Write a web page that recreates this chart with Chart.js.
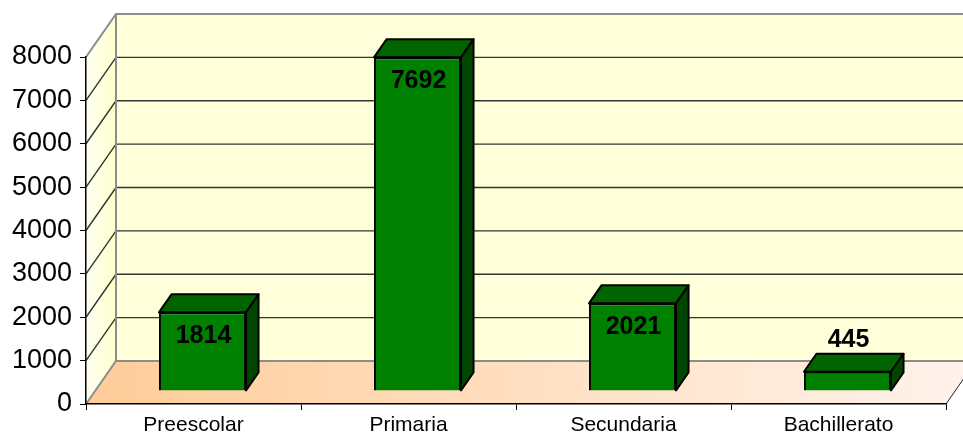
<!DOCTYPE html>
<html><head><meta charset="utf-8">
<script src="https://cdn.jsdelivr.net/npm/chart.js@4.4.0/dist/chart.umd.min.js"></script>
<style>html,body{margin:0;padding:0;background:#fff;overflow:hidden}</style>
</head><body>
<canvas id="c" width="963" height="436" style="display:block;width:963px;height:436px"></canvas>
<script>
// ---- data ----
const categories = ['Preescolar', 'Primaria', 'Secundaria', 'Bachillerato'];
const alumnos = [1814, 7692, 2021, 445];
const yMin = 0, yMax = 8000, yStep = 1000;

// ---- style constants (pixels) ----
const FONT = 'Arial, "Liberation Sans", sans-serif';
const WALL_DX = 30, WALL_DY = 43;     // depth of the 3D box
const BAR_OFF_X = 9, BAR_OFF_Y = 13;  // bar front-face offset into depth
const BAR_DX = 12.5, BAR_DY = 18;     // bar depth
const FRONT = '#008000', TOP = '#006400', SIDE = '#004600';

const walls = {
  id: 'walls',
  beforeDraw(chart) {
    const {ctx, chartArea: a, scales: {y}} = chart;
    const W = chart.width;
    ctx.save();
    // floor
    const yb = y.getPixelForValue(yMin);
    let g = ctx.createLinearGradient(a.left, 0, a.right + WALL_DX, 0);
    g.addColorStop(0, '#FFCC99');
    g.addColorStop(1, '#FFF3EC');
    ctx.fillStyle = g;
    ctx.beginPath();
    ctx.moveTo(a.left, yb); ctx.lineTo(a.right, yb);
    ctx.lineTo(a.right + WALL_DX, yb - WALL_DY); ctx.lineTo(a.left + WALL_DX, yb - WALL_DY);
    ctx.closePath(); ctx.fill();
    // back wall
    const yt = y.getPixelForValue(yMax);
    ctx.fillStyle = '#FFFFD9';
    ctx.fillRect(a.left + WALL_DX, yt - WALL_DY, W, yb - yt);
    // side wall
    g = ctx.createLinearGradient(a.left, 0, a.left + WALL_DX, 0);
    g.addColorStop(0, '#FFFFF2');
    g.addColorStop(1, '#FFFFCC');
    ctx.fillStyle = g;
    ctx.beginPath();
    ctx.moveTo(a.left, yb); ctx.lineTo(a.left, yt);
    ctx.lineTo(a.left + WALL_DX, yt - WALL_DY); ctx.lineTo(a.left + WALL_DX, yb - WALL_DY);
    ctx.closePath(); ctx.fill();
    // gridlines
    for (let v = yMin + yStep; v < yMax; v += yStep) {
      const p = y.getPixelForValue(v);
      ctx.strokeStyle = '#333'; ctx.lineWidth = 1.4;
      ctx.beginPath();
      ctx.moveTo(a.left, p); ctx.lineTo(a.left + WALL_DX, p - WALL_DY); ctx.lineTo(W + 5, p - WALL_DY);
      ctx.stroke();
    }
    // gray frame edges
    ctx.strokeStyle = '#8c8c8c'; ctx.lineWidth = 2;
    ctx.beginPath();
    ctx.moveTo(a.left, yt); ctx.lineTo(a.left + WALL_DX, yt - WALL_DY); ctx.lineTo(W + 5, yt - WALL_DY);
    ctx.moveTo(a.left, yb); ctx.lineTo(a.left + WALL_DX, yb - WALL_DY); ctx.lineTo(W + 5, yb - WALL_DY);
    ctx.moveTo(a.left + WALL_DX, yt - WALL_DY); ctx.lineTo(a.left + WALL_DX, yb - WALL_DY);
    ctx.stroke();
    // right floor edge
    ctx.strokeStyle = '#222'; ctx.lineWidth = 1;
    ctx.beginPath();
    ctx.moveTo(a.right, yb); ctx.lineTo(a.right + WALL_DX, yb - WALL_DY);
    ctx.stroke();
    ctx.restore();
  },
  beforeDatasetsDraw(chart) {
    chart.ctx.save();
    chart.ctx.translate(BAR_OFF_X, -BAR_OFF_Y);
  },
  afterDatasetsDraw(chart) {
    const ctx = chart.ctx;
    const meta = chart.getDatasetMeta(0);
    ctx.lineWidth = 2; ctx.strokeStyle = '#000'; ctx.lineJoin = 'round';
    meta.data.forEach(el => {
      const L = el.x - el.width / 2, R = el.x + el.width / 2, T = el.y, B = el.base;
      ctx.fillStyle = TOP;
      ctx.beginPath();
      ctx.moveTo(L, T); ctx.lineTo(R, T); ctx.lineTo(R + BAR_DX, T - BAR_DY); ctx.lineTo(L + BAR_DX, T - BAR_DY);
      ctx.closePath(); ctx.fill(); ctx.stroke();
      ctx.fillStyle = SIDE;
      ctx.beginPath();
      ctx.moveTo(R, T); ctx.lineTo(R + BAR_DX, T - BAR_DY); ctx.lineTo(R + BAR_DX, B - BAR_DY); ctx.lineTo(R, B);
      ctx.closePath(); ctx.fill(); ctx.stroke();
    });
    ctx.restore();
    // labels
    ctx.save();
    ctx.font = 'bold 25px ' + FONT;
    ctx.fillStyle = '#000'; ctx.textAlign = 'center'; ctx.textBaseline = 'middle';
    meta.data.forEach((el, i) => {
      const top = el.y - BAR_OFF_Y;
      const h = el.base - el.y;
      const ly = h > 50 ? top + 24 : top - BAR_DY - 14;
      ctx.fillText(String(alumnos[i]), el.x + BAR_OFF_X + 1, ly);
    });
    ctx.restore();
  }
};

new Chart(document.getElementById('c'), {
  type: 'bar',
  data: {
    labels: categories,
    datasets: [{
      data: alumnos,
      backgroundColor: FRONT,
      borderColor: '#000',
      borderWidth: 2,
      categoryPercentage: 1,
      barPercentage: 0.405,
      clip: false
    }]
  },
  options: {
    responsive: false,
    animation: false,
    devicePixelRatio: 1,
    layout: {padding: {top: 57, right: 17, left: 0, bottom: 0}},
    plugins: {legend: {display: false}, tooltip: {enabled: false}},
    scales: {
      x: {
        afterFit(s) { s.height = 32; },
        grid: {display: true, offset: true, drawOnChartArea: false, tickLength: 6, tickColor: '#000', lineWidth: 1},
        border: {display: true, color: '#000', width: 1.5},
        ticks: {color: '#000', font: {family: FONT, size: 21}, padding: 3, maxRotation: 0, autoSkip: false}
      },
      y: {
        min: yMin, max: yMax,
        afterFit(s) { s.width = 86; },
        grid: {display: true, drawOnChartArea: false, tickLength: 6, tickColor: '#000', lineWidth: 1},
        border: {display: true, color: '#000', width: 1.5},
        ticks: {stepSize: yStep, color: '#000', font: {family: FONT, size: 27}, padding: 8,
                callback: v => String(v)}
      }
    }
  },
  plugins: [walls]
});
</script>
</body></html>
